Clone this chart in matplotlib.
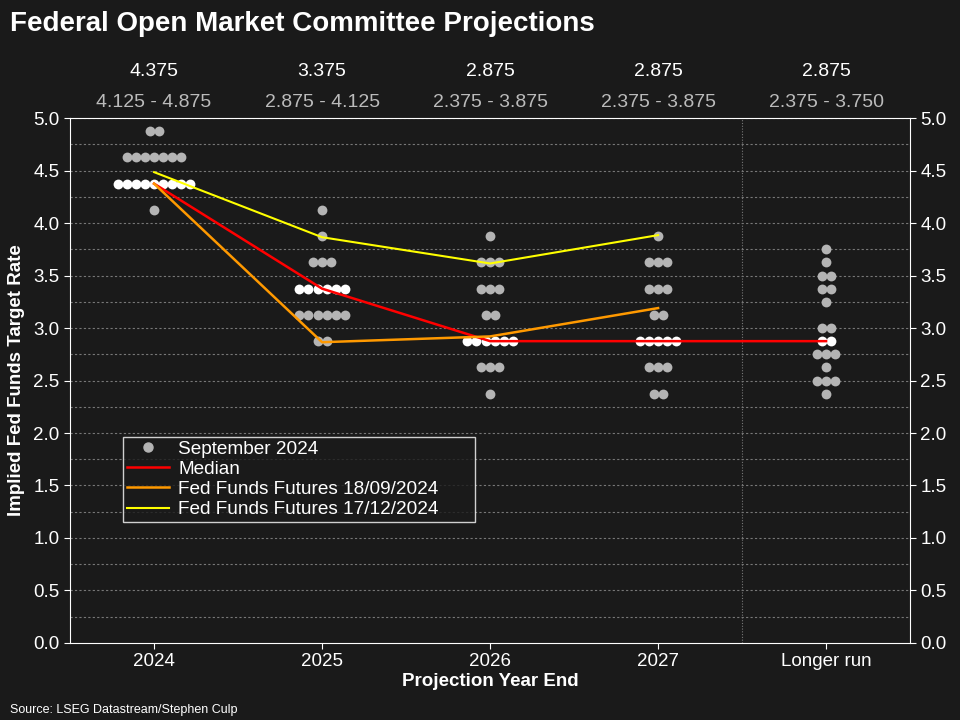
import numpy as np
import matplotlib.pyplot as plt
from matplotlib.lines import Line2D

plt.rcParams['font.family'] = ['Liberation Sans', 'DejaVu Sans']

categories = ['2024', '2025', '2026', '2027', 'Longer run']

# dot plot: rate levels and number of participants at each level
dots_2024 = {4.875: 2, 4.625: 7, 4.375: 9, 4.125: 1}
dots_2025 = {4.125: 1, 3.875: 1, 3.625: 3, 3.375: 6, 3.125: 6, 2.875: 2}
dots_2026 = {3.875: 1, 3.625: 3, 3.375: 3, 3.125: 2, 2.875: 6, 2.625: 3, 2.375: 1}
dots_2027 = {3.875: 1, 3.625: 3, 3.375: 3, 3.125: 2, 2.875: 5, 2.625: 3, 2.375: 2}
dots_longer = {3.75: 1, 3.625: 1, 3.5: 2, 3.375: 2, 3.25: 1, 3.0: 2, 2.875: 2,
               2.75: 3, 2.625: 1, 2.5: 3, 2.375: 1}
all_dots = [dots_2024, dots_2025, dots_2026, dots_2027, dots_longer]

median = [4.375, 3.375, 2.875, 2.875, 2.875]
ranges = ['4.125 - 4.875', '2.875 - 4.125', '2.375 - 3.875', '2.375 - 3.875', '2.375 - 3.750']
futures_sep = [4.375, 2.865, 2.92, 3.19]
futures_dec = [4.485, 3.865, 3.615, 3.885]

bg = '#1a1a1a'
fig = plt.figure(figsize=(9.6, 7.2), dpi=100, facecolor=bg)
ax = fig.add_axes([0.073, 0.107, 0.875, 0.729], facecolor=bg)

step = 0.054
for i, d in enumerate(all_dots):
    for lvl, n in d.items():
        xs = i + (np.arange(n) - (n - 1) / 2) * step
        col = 'white' if lvl == median[i] else '#b4b4b4'
        ax.scatter(xs, [lvl] * n, s=50, color=col, zorder=3, linewidths=0)

x = np.arange(len(categories))
ax.plot(x, median, color='#ff0000', lw=1.8, zorder=4)
ax.plot(x[:4], futures_sep, color='#ff9900', lw=1.8, zorder=4)
ax.plot(x[:4], futures_dec, color='#ffff00', lw=1.5, zorder=4)

ax.set_xlim(-0.5, 4.5)
ax.set_ylim(0, 5)
ax.set_xticks(x)
ax.set_xticklabels(categories)
ax.set_yticks(np.arange(0, 5.01, 0.5))
ax.set_yticklabels([f'{v:.1f}' for v in np.arange(0, 5.01, 0.5)])
for v in np.arange(0.25, 5.01, 0.25):
    ax.axhline(v, color='#777777', lw=0.8, ls=(0, (2, 2)), zorder=1)
ax.axvline(3.5, color='#777777', lw=0.8, ls=(0, (1, 1.5)), zorder=1)

ax.tick_params(colors='white', labelsize=13.5, right=True, labelright=True, length=4)
for s in ax.spines.values():
    s.set_color('white')

ax.set_xlabel('Projection Year End', color='white', fontsize=13.5, fontweight='bold', labelpad=2)
ax.set_ylabel('Implied Fed Funds Target Rate', color='white', fontsize=13.5, fontweight='bold', labelpad=6)

tr = ax.get_xaxis_transform()
for i in range(len(categories)):
    ax.text(i, 1.088, f'{median[i]:.3f}', transform=tr, ha='center', va='center',
            color='white', fontsize=14)
    ax.text(i, 1.029, ranges[i], transform=tr, ha='center', va='center',
            color='#bbbbbb', fontsize=14)

handles = [
    Line2D([], [], ls='none', marker='o', color='#b4b4b4', markersize=6.5),
    Line2D([], [], color='#ff0000', lw=1.8),
    Line2D([], [], color='#ff9900', lw=1.8),
    Line2D([], [], color='#ffff00', lw=1.5),
]
labels = ['September 2024', 'Median', 'Fed Funds Futures 18/09/2024', 'Fed Funds Futures 17/12/2024']
leg = ax.legend(handles, labels, loc='lower left', bbox_to_anchor=(0.063, 0.2305, 0.419, 0.17),
                mode='expand', frameon=True, fancybox=False, facecolor=bg, edgecolor='white',
                fontsize=13.7, labelcolor='white', handlelength=2.2, handletextpad=0.5,
                borderpad=0.2, labelspacing=0.15, borderaxespad=0)
leg.get_frame().set_linewidth(1)

fig.text(0.01, 0.967, 'Federal Open Market Committee Projections', color='white',
         fontsize=20, fontweight='bold', ha='left', va='center')
fig.text(0.01, 0.014, 'Source: LSEG Datastream/Stephen Culp', color='white',
         fontsize=9, ha='left', va='center')

fig.savefig('out.png', dpi=100, facecolor=bg)
